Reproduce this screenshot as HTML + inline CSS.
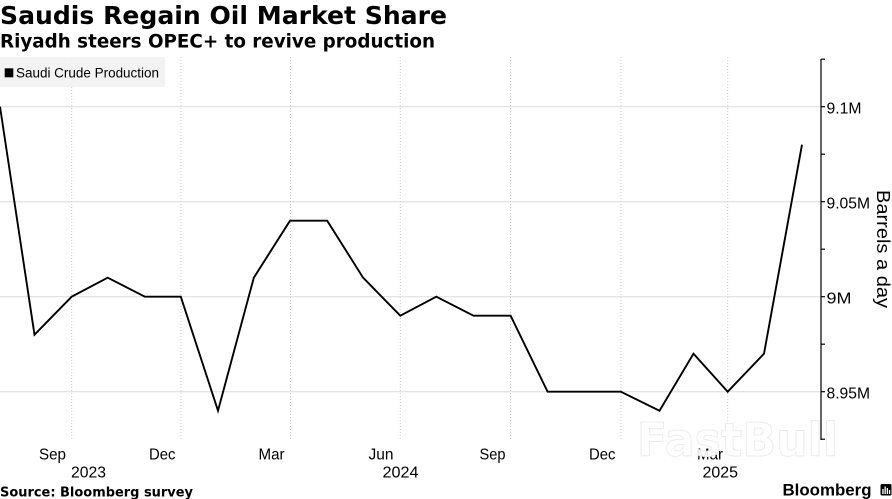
<!DOCTYPE html>
<html>
<head>
<meta charset="utf-8">
<style>
html,body{margin:0;padding:0;background:#fff;}
body{width:892px;height:499px;overflow:hidden;}
svg{display:block;}
</style>
</head>
<body>
<svg width="892" height="499" viewBox="0 0 892 499" xmlns="http://www.w3.org/2000/svg">
  <rect x="0" y="0" width="892" height="499" fill="#fff"/>

  <!-- Title -->
  <text x="0" y="24" font-family="'DejaVu Sans', sans-serif" font-weight="bold" font-size="25" fill="#000" textLength="447" lengthAdjust="spacingAndGlyphs">Saudis Regain Oil Market Share</text>
  <text x="0" y="47.5" font-family="'DejaVu Sans', sans-serif" font-weight="bold" font-size="18.5" fill="#000" textLength="435" lengthAdjust="spacingAndGlyphs">Riyadh steers OPEC+ to revive production</text>

  <!-- horizontal gridlines -->
  <g stroke="#dcdcdc" stroke-width="1">
    <line x1="0" y1="106.7" x2="821" y2="106.7"/>
    <line x1="0" y1="201.7" x2="821" y2="201.7"/>
    <line x1="0" y1="296.7" x2="821" y2="296.7"/>
    <line x1="0" y1="391.7" x2="821" y2="391.7"/>
  </g>
  <!-- vertical dotted gridlines -->
  <g stroke="#c8c8c8" stroke-width="1" stroke-dasharray="1,2">
    <line x1="71.7" y1="57" x2="71.7" y2="440"/>
    <line x1="181" y1="57" x2="181" y2="440"/>
    <line x1="290.5" y1="57" x2="290.5" y2="440"/>
    <line x1="400.3" y1="57" x2="400.3" y2="440"/>
    <line x1="510.6" y1="57" x2="510.6" y2="440"/>
    <line x1="621" y1="57" x2="621" y2="440"/>
    <line x1="727.7" y1="57" x2="727.7" y2="440"/>
  </g>

  <!-- legend -->
  <rect x="0" y="57" width="165" height="30" fill="#f2f2f2" fill-opacity="0.92"/>
  <rect x="4.7" y="68.3" width="8.6" height="9" fill="#000"/>
  <text x="16" y="77.3" font-family="'Liberation Sans', sans-serif" font-size="13.5" fill="#000" textLength="143" lengthAdjust="spacingAndGlyphs">Saudi Crude Production</text>

  <!-- data line -->
  <polyline fill="none" stroke="#000" stroke-width="1.9" stroke-linejoin="miter"
    points="0,106.7 34.5,334.7 71.7,296.7 107.7,277.7 144.9,296.7 180.8,296.7 218,410.7 253.8,277.7 290,220.7 327.2,220.7 363.1,277.7 400.3,315.7 436.3,296.7 473.5,315.7 510.6,315.7 547.6,391.7 584.8,391.7 620.8,391.7 659.5,410.7 693.5,353.7 727.7,391.7 764,353.7 802,144.7"/>

  <!-- right axis -->
  <line x1="821" y1="59" x2="821" y2="440" stroke="#000" stroke-width="1.2"/>
  <g stroke="#000" stroke-width="1.2">
    <line x1="821" y1="59.2" x2="825" y2="59.2"/>
    <line x1="821" y1="106.7" x2="825" y2="106.7"/>
    <line x1="821" y1="154.2" x2="825" y2="154.2"/>
    <line x1="821" y1="201.7" x2="825" y2="201.7"/>
    <line x1="821" y1="249.2" x2="825" y2="249.2"/>
    <line x1="821" y1="296.7" x2="825" y2="296.7"/>
    <line x1="821" y1="344.2" x2="825" y2="344.2"/>
    <line x1="821" y1="391.7" x2="825" y2="391.7"/>
    <line x1="821" y1="439.2" x2="825" y2="439.2"/>
  </g>
  <g font-family="'Liberation Sans', sans-serif" font-size="15.5" fill="#000">
    <text x="826.5" y="113.5" textLength="35" lengthAdjust="spacingAndGlyphs">9.1M</text>
    <text x="826.5" y="208.5" textLength="43.5" lengthAdjust="spacingAndGlyphs">9.05M</text>
    <text x="826.5" y="303.5" textLength="25" lengthAdjust="spacingAndGlyphs">9M</text>
    <text x="826.5" y="398.5" textLength="43.5" lengthAdjust="spacingAndGlyphs">8.95M</text>
  </g>
  <text transform="translate(877,190) rotate(90)" x="0" y="0" font-family="'Liberation Sans', sans-serif" font-size="18" fill="#000" textLength="118" lengthAdjust="spacingAndGlyphs">Barrels a day</text>

  <!-- x axis labels -->
  <g font-family="'Liberation Sans', sans-serif" font-size="16" fill="#000">
    <text x="39" y="459.5" textLength="27" lengthAdjust="spacingAndGlyphs">Sep</text>
    <text x="149" y="459.5" textLength="26.5" lengthAdjust="spacingAndGlyphs">Dec</text>
    <text x="258.5" y="459.5" textLength="26" lengthAdjust="spacingAndGlyphs">Mar</text>
    <text x="368.5" y="459.5" textLength="25" lengthAdjust="spacingAndGlyphs">Jun</text>
    <text x="479.5" y="459.5" textLength="26" lengthAdjust="spacingAndGlyphs">Sep</text>
    <text x="589" y="459.5" textLength="26.5" lengthAdjust="spacingAndGlyphs">Dec</text>
    <text x="697" y="459.5" textLength="26" lengthAdjust="spacingAndGlyphs">Mar</text>
    <text x="71" y="477.5" textLength="35" lengthAdjust="spacingAndGlyphs">2023</text>
    <text x="382.5" y="477.5" textLength="36" lengthAdjust="spacingAndGlyphs">2024</text>
    <text x="702.5" y="477.5" textLength="35.5" lengthAdjust="spacingAndGlyphs">2025</text>
  </g>

  <!-- watermark -->
  <text x="637" y="456" font-family="'DejaVu Sans', sans-serif" font-weight="bold" font-size="46" fill="#ffffff" fill-opacity="0.9" stroke="#ececec" stroke-width="1" textLength="201" lengthAdjust="spacingAndGlyphs">FastBull</text>

  <!-- source -->
  <text x="0" y="496.5" font-family="'DejaVu Sans', sans-serif" font-weight="bold" font-size="13" fill="#000" textLength="193" lengthAdjust="spacingAndGlyphs">Source: Bloomberg survey</text>

  <!-- Bloomberg logo -->
  <text x="782.5" y="495.5" font-family="'Liberation Sans', sans-serif" font-weight="bold" font-size="16.5" fill="#000" textLength="89" lengthAdjust="spacingAndGlyphs">Bloomberg</text>
  <rect x="880.5" y="484" width="11" height="11.5" rx="1.5" fill="#000"/>
  <g fill="#fff">
    <rect x="882.3" y="489" width="1.3" height="5"/>
    <rect x="884.5" y="486.5" width="1.3" height="7.5"/>
    <rect x="886.7" y="488" width="1.3" height="6"/>
    <rect x="888.9" y="490" width="1.3" height="4"/>
  </g>
</svg>
</body>
</html>
